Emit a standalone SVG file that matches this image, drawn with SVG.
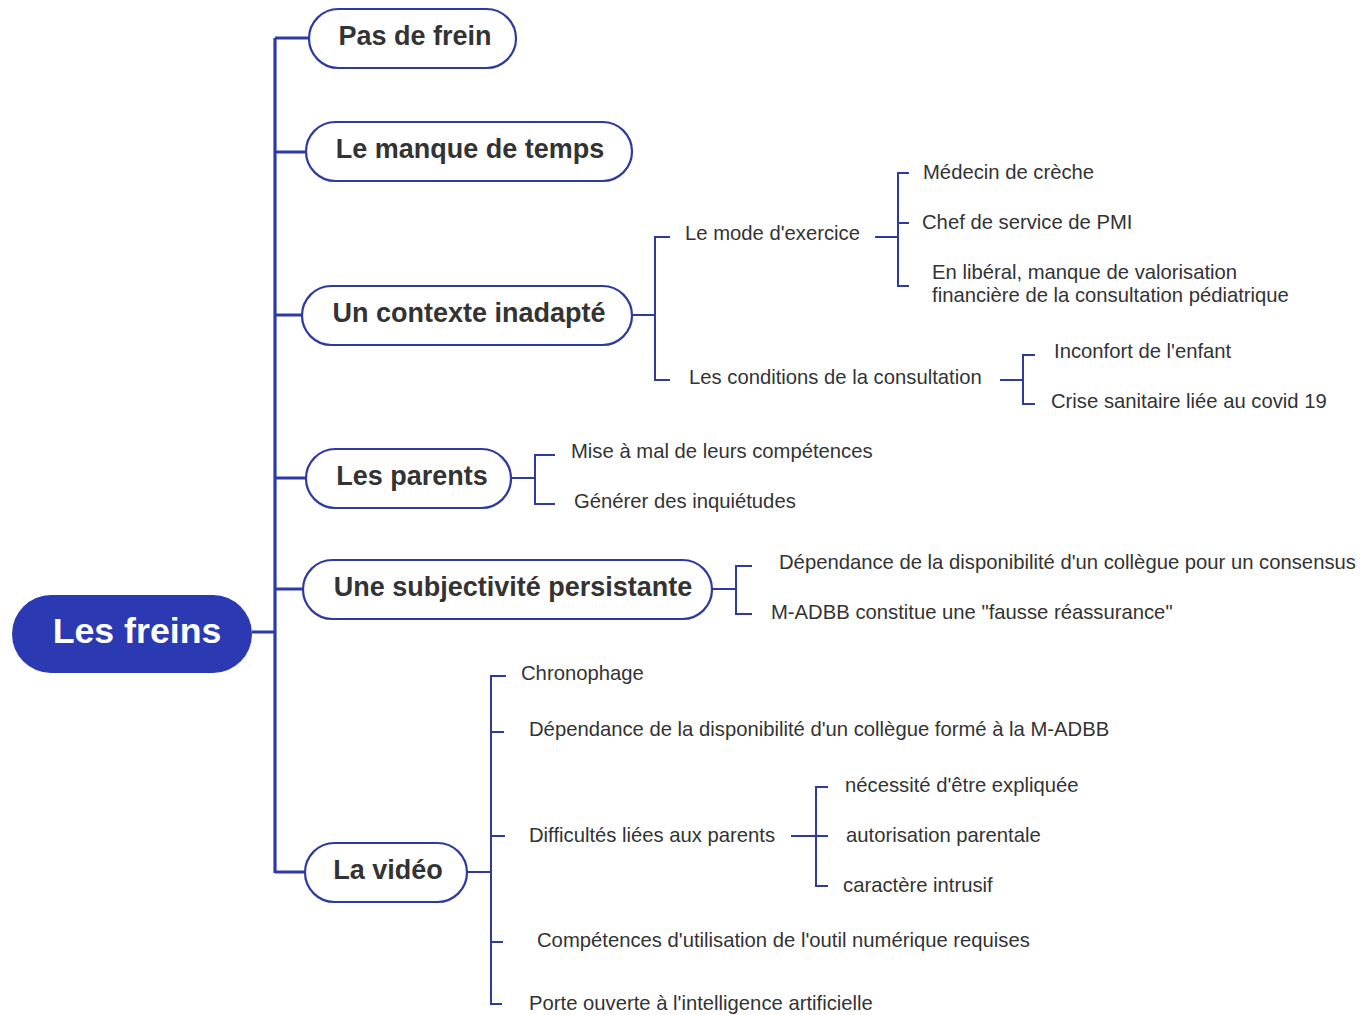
<svg xmlns="http://www.w3.org/2000/svg" width="1364" height="1015" viewBox="0 0 1364 1015">
<style>
.pill{fill:#fff;stroke:#2e3a9e;stroke-width:2.2}
.root{fill:#2b39b2}
.bt{font-family:"Liberation Sans",Arial,sans-serif;font-weight:bold;font-size:27px;fill:#333;text-anchor:middle}
.rt{font-family:"Liberation Sans",Arial,sans-serif;font-weight:bold;font-size:35.7px;fill:#fff;text-anchor:middle}
.lt{font-family:"Liberation Sans",Arial,sans-serif;font-size:20.25px;fill:#333}
.trunk{fill:none;stroke:#2e3aa8;stroke-width:3.2}
.br{fill:none;stroke:#2e3a9e;stroke-width:2}
</style>
<rect width="1364" height="1015" fill="#fff"/>
<g id="connectors">
<path class="trunk" d="M252 632H275M275 38V873M275 38H309M275 152H306M275 315H302M275 478H306M275 589H303M275 872H305"/>
<path class="br" d="M632 315H655M670 237H655V380H670"/>
<path class="br" d="M875 237H898M909 173H898V286H909M898 223H909"/>
<path class="br" d="M1000 380H1023M1035 355H1023V404H1035"/>
<path class="br" d="M511 478H535M555 455H535V504H555"/>
<path class="br" d="M712 589H736M752 566H736V614H752"/>
<path class="br" d="M467 872H491M506 676H491V1004H502M491 732H504M491 836H505M491 942H503"/>
<path class="br" d="M791 836H816M828 787H816V886H828M816 836H828"/>
</g>
<g id="root"><rect class="root" x="12" y="595" width="240" height="78" rx="39"/><text class="rt" x="137" y="643">Les freins</text></g>
<g id="n1"><rect class="pill" x="309" y="9" width="207" height="59" rx="29.5"/><text class="bt" x="415" y="45">Pas de frein</text></g>
<g id="n2"><rect class="pill" x="306" y="122" width="326" height="59" rx="29.5"/><text class="bt" x="470" y="158">Le manque de temps</text></g>
<g id="n3"><rect class="pill" x="302" y="286" width="330" height="59" rx="29.5"/><text class="bt" x="469" y="322">Un contexte inadapté</text></g>
<g id="n4"><rect class="pill" x="306" y="449" width="205" height="59" rx="29.5"/><text class="bt" x="412" y="485">Les parents</text></g>
<g id="n5"><rect class="pill" x="303" y="560" width="409" height="59" rx="29.5"/><text class="bt" x="513" y="596">Une subjectivité persistante</text></g>
<g id="n6"><rect class="pill" x="305" y="843" width="162" height="59" rx="29.5"/><text class="bt" x="388" y="879">La vidéo</text></g>
<g id="n3a"><text class="lt" x="685" y="240">Le mode d'exercice</text></g>
<g id="n3b"><text class="lt" x="689" y="384">Les conditions de la consultation</text></g>
<g id="n3a1"><text class="lt" x="923" y="179">Médecin de crèche</text></g>
<g id="n3a2"><text class="lt" x="922" y="229">Chef de service de PMI</text></g>
<g id="n3a3"><text class="lt" x="932" y="279">En libéral, manque de valorisation</text><text class="lt" x="932" y="302">financière de la consultation pédiatrique</text></g>
<g id="n3b1"><text class="lt" x="1054" y="358">Inconfort de l'enfant</text></g>
<g id="n3b2"><text class="lt" x="1051" y="408">Crise sanitaire liée au covid 19</text></g>
<g id="n4a"><text class="lt" x="571" y="458">Mise à mal de leurs compétences</text></g>
<g id="n4b"><text class="lt" x="574" y="508">Générer des inquiétudes</text></g>
<g id="n5a"><text class="lt" x="779" y="569">Dépendance de la disponibilité d'un collègue pour un consensus</text></g>
<g id="n5b"><text class="lt" x="771" y="619">M-ADBB constitue une "fausse réassurance"</text></g>
<g id="n6a"><text class="lt" x="521" y="680">Chronophage</text></g>
<g id="n6b"><text class="lt" x="529" y="736">Dépendance de la disponibilité d'un collègue formé à la M-ADBB</text></g>
<g id="n6c"><text class="lt" x="529" y="842">Difficultés liées aux parents</text></g>
<g id="n6c1"><text class="lt" x="845" y="792">nécessité d'être expliquée</text></g>
<g id="n6c2"><text class="lt" x="846" y="842">autorisation parentale</text></g>
<g id="n6c3"><text class="lt" x="843" y="892">caractère intrusif</text></g>
<g id="n6d"><text class="lt" x="537" y="947">Compétences d'utilisation de l'outil numérique requises</text></g>
<g id="n6e"><text class="lt" x="529" y="1010">Porte ouverte à l'intelligence artificielle</text></g>
</svg>
